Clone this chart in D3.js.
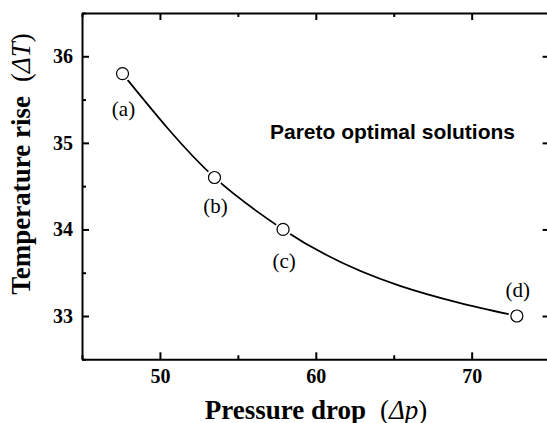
<!DOCTYPE html>
<html>
  <head>
    <meta charset="utf-8">
    <title>Pareto front</title>
    <script src="https://d3js.org/d3.v7.min.js"></script>
    <style>
      body { margin: 0; background: #fff; }
      .axis path, .axis line { stroke: #000; stroke-width: 2px; }
      .axis text { font-family: "Liberation Serif", "Times New Roman", serif; font-weight: bold; font-size: 20px; fill: #000; }
      .title { font-family: "Liberation Serif", "Times New Roman", serif; font-weight: bold; font-size: 27px; fill: #000; }
      .ptlabel { font-family: "Liberation Serif", "Times New Roman", serif; font-size: 21px; fill: #000; }
      .note { font-family: "Liberation Sans", Arial, sans-serif; font-weight: bold; font-size: 21px; fill: #000; }
    </style>
  </head>
  <body>
    <svg width="547" height="423"></svg>

    <script>
      // Pareto optimal solutions
      var labels = ["(a)", "(b)", "(c)", "(d)"];
      var pressureDrop = [47.6, 53.5, 57.9, 72.9];
      var tempRise = [35.8, 34.6, 34.0, 33.0];

      var xTicks = [50, 60, 70];
      var yTicks = [33, 34, 35, 36];
      var xMinor = [45, 55, 65, 75];
      var yMinor = [32.5, 33.5, 34.5, 35.5, 36.5];

      // label offset under / above each point
      var labelDy = [42, 36, 39, -19];

      var svg = d3.select("svg");

      // plot box (right edge falls just outside the picture)
      var pLeft = 82, pRight = 549.6, pTop = 13, pBottom = 359.3;

      var x = d3.scaleLinear().domain([45, 75]).range([pLeft, pRight]);
      var y = d3.scaleLinear().domain([32.5, 36.5]).range([pBottom, pTop]);

      var points = pressureDrop.map(function(p, i) {
        return { x: p, y: tempRise[i], label: labels[i], dy: labelDy[i] };
      });

      // minor ticks first, majors on top
      svg.append("g").attr("class", "axis")
          .attr("transform", "translate(0," + pBottom + ")")
          .call(d3.axisBottom(x).tickValues(xMinor).tickSize(-4).tickFormat(""))
          .select(".domain").remove();
      svg.append("g").attr("class", "axis")
          .attr("transform", "translate(0," + pTop + ")")
          .call(d3.axisTop(x).tickValues(xMinor).tickSize(-4).tickFormat(""))
          .select(".domain").remove();
      svg.append("g").attr("class", "axis")
          .attr("transform", "translate(" + pLeft + ",0)")
          .call(d3.axisLeft(y).tickValues(yMinor).tickSize(-4).tickFormat(""))
          .select(".domain").remove();

      svg.append("g").attr("class", "axis")
          .attr("transform", "translate(0," + pBottom + ")")
          .call(d3.axisBottom(x).tickValues(xTicks).tickSize(-7).tickSizeOuter(0)
              .tickPadding(10).tickFormat(d3.format("d")));
      svg.append("g").attr("class", "axis")
          .attr("transform", "translate(0," + pTop + ")")
          .call(d3.axisTop(x).tickValues(xTicks).tickSize(-7).tickSizeOuter(0).tickFormat(""));
      svg.append("g").attr("class", "axis")
          .attr("transform", "translate(" + pLeft + ",0)")
          .call(d3.axisLeft(y).tickValues(yTicks).tickSize(-7).tickSizeOuter(0)
              .tickPadding(9).tickFormat(d3.format("d")));
      svg.append("g").attr("class", "axis")
          .attr("transform", "translate(" + pRight + ",0)")
          .call(d3.axisRight(y).tickValues(yTicks).tickSize(-7).tickSizeOuter(0).tickFormat(""));

      // smooth fitted curve through the solutions
      var line = d3.line()
          .x(function(d) { return x(d.x); })
          .y(function(d) { return y(d.y); })
          .curve(d3.curveMonotoneX);

      svg.append("path")
          .datum(points)
          .attr("d", line)
          .attr("fill", "none")
          .attr("stroke", "#000")
          .attr("stroke-width", 1.7);

      // white halo leaves the small gap round each marker
      svg.selectAll("circle.halo")
          .data(points)
          .enter().append("circle")
          .attr("class", "halo")
          .attr("cx", function(d) { return x(d.x); })
          .attr("cy", function(d) { return y(d.y); })
          .attr("r", 8.5)
          .attr("fill", "#fff");

      svg.selectAll("circle.pt")
          .data(points)
          .enter().append("circle")
          .attr("class", "pt")
          .attr("cx", function(d) { return x(d.x); })
          .attr("cy", function(d) { return y(d.y); })
          .attr("r", 6)
          .attr("fill", "#fff")
          .attr("stroke", "#000")
          .attr("stroke-width", 1.2);

      svg.selectAll("text.ptlabel")
          .data(points)
          .enter().append("text")
          .attr("class", "ptlabel")
          .attr("x", function(d) { return x(d.x) + 1; })
          .attr("y", function(d) { return y(d.y) + d.dy; })
          .attr("text-anchor", "middle")
          .text(function(d) { return d.label; });

      svg.append("text")
          .attr("class", "note")
          .attr("x", 270)
          .attr("y", 138.5)
          .text("Pareto optimal solutions");

      // axis titles
      var xt = svg.append("text")
          .attr("class", "title")
          .attr("x", 316)
          .attr("y", 418.5)
          .attr("text-anchor", "middle");
      xt.append("tspan").text("Pressure drop");
      xt.append("tspan").attr("dx", 14).attr("font-weight", "normal").text("(");
      xt.append("tspan").attr("font-weight", "normal").attr("font-style", "italic").text("Δp");
      xt.append("tspan").attr("font-weight", "normal").text(")");

      var yt = svg.append("text")
          .attr("class", "title")
          .attr("transform", "translate(30,164) rotate(-90)")
          .attr("text-anchor", "middle");
      yt.append("tspan").text("Temperature rise");
      yt.append("tspan").attr("dx", 14).attr("font-weight", "normal").text("(");
      yt.append("tspan").attr("font-weight", "normal").attr("font-style", "italic").text("ΔT");
      yt.append("tspan").attr("font-weight", "normal").text(")");
    </script>
  </body>
</html>
